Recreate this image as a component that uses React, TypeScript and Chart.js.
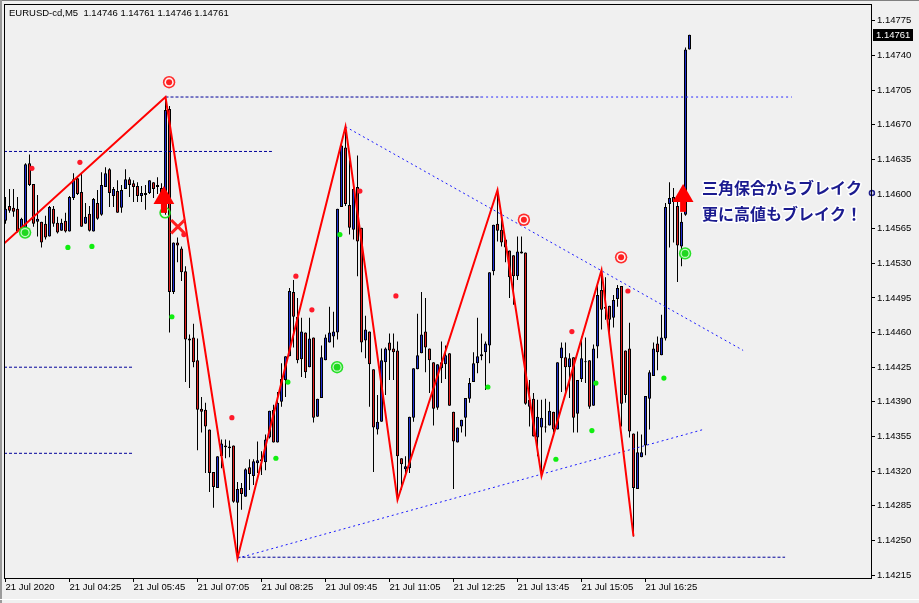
import React, { useEffect, useRef } from "react";
import { Chart, registerables } from "chart.js";

Chart.register(...registerables);

const chartTitle = "EURUSD-cd,M5  1.14746 1.14761 1.14746 1.14761";

const openP = [
  1.14573, 1.14588, 1.14586, 1.14585, 1.14565, 1.14566, 1.14631, 1.14610, 1.14572, 1.14572,
  1.14570, 1.14557, 1.14585, 1.14571, 1.14563, 1.14573, 1.14562, 1.14596, 1.14616, 1.14602,
  1.14570, 1.14580, 1.14562, 1.14591, 1.14579, 1.14607, 1.14625, 1.14598, 1.14603, 1.14586,
  1.14605, 1.14615, 1.14611, 1.14608, 1.14598, 1.14601, 1.14601, 1.14612, 1.14607, 1.14606,
  1.14581, 1.14686, 1.14501, 1.14551, 1.14545, 1.14522, 1.14452, 1.14455, 1.14432, 1.14383,
  1.14382, 1.14362, 1.14319, 1.14303, 1.14335, 1.14344, 1.14345, 1.14346, 1.14288, 1.14303,
  1.14294, 1.14324, 1.14315, 1.14328, 1.14332, 1.14329, 1.14354, 1.14382, 1.14349, 1.14390,
  1.14412, 1.14436, 1.14501, 1.14476, 1.14433, 1.14460, 1.14425, 1.14455, 1.14375, 1.14394,
  1.14432, 1.14450, 1.14456, 1.14460, 1.14587, 1.14647, 1.14589, 1.14564, 1.14607, 1.14566,
  1.14452, 1.14461, 1.14423, 1.14362, 1.14370, 1.14430, 1.14450, 1.14444, 1.14442, 1.14333,
  1.14322, 1.14323, 1.14374, 1.14423, 1.14439, 1.14461, 1.14444, 1.14430, 1.14384, 1.14424,
  1.14428, 1.14439, 1.14380, 1.14349, 1.14365, 1.14374, 1.14393, 1.14410, 1.14429, 1.14438,
  1.14440, 1.14447, 1.14522, 1.14570, 1.14564, 1.14554, 1.14543, 1.14538, 1.14517, 1.14540,
  1.14541, 1.14385, 1.14393, 1.14354, 1.14364, 1.14365, 1.14366, 1.14380, 1.14362, 1.14434,
  1.14435, 1.14425, 1.14435, 1.14378, 1.14413, 1.14431, 1.14432, 1.14386, 1.14446, 1.14503,
  1.14486, 1.14487, 1.14475, 1.14494, 1.14507, 1.14442, 1.14444, 1.14358, 1.14302, 1.14334,
  1.14346, 1.14393, 1.14416, 1.14449, 1.14437, 1.14454, 1.14590, 1.14597, 1.14588, 1.14547,
  1.14579, 1.14746,
];

const highP = [
  1.14597, 1.14605, 1.14605, 1.14597, 1.14576, 1.14631, 1.14640, 1.14610, 1.14599, 1.14572,
  1.14578, 1.14588, 1.14588, 1.14577, 1.14575, 1.14581, 1.14598, 1.14621, 1.14617, 1.14621,
  1.14591, 1.14588, 1.14596, 1.14604, 1.14622, 1.14627, 1.14626, 1.14607, 1.14614, 1.14609,
  1.14625, 1.14617, 1.14614, 1.14612, 1.14608, 1.14609, 1.14614, 1.14612, 1.14617, 1.14611,
  1.14698, 1.14689, 1.14551, 1.14556, 1.14547, 1.14527, 1.14458, 1.14469, 1.14454, 1.14395,
  1.14389, 1.14362, 1.14319, 1.14335, 1.14352, 1.14352, 1.14351, 1.14346, 1.14309, 1.14308,
  1.14323, 1.14332, 1.14332, 1.14350, 1.14340, 1.14357, 1.14381, 1.14387, 1.14400, 1.14429,
  1.14436, 1.14505, 1.14513, 1.14495, 1.14475, 1.14460, 1.14475, 1.14455, 1.14393, 1.14447,
  1.14458, 1.14486, 1.14481, 1.14585, 1.14650, 1.14668, 1.14634, 1.14611, 1.14639, 1.14566,
  1.14477, 1.14461, 1.14423, 1.14397, 1.14444, 1.14445, 1.14459, 1.14459, 1.14451, 1.14333,
  1.14335, 1.14375, 1.14424, 1.14479, 1.14501, 1.14495, 1.14444, 1.14430, 1.14428, 1.14451,
  1.14447, 1.14439, 1.14380, 1.14364, 1.14372, 1.14394, 1.14414, 1.14440, 1.14475, 1.14459,
  1.14451, 1.14521, 1.14569, 1.14604, 1.14580, 1.14554, 1.14543, 1.14538, 1.14557, 1.14557,
  1.14541, 1.14412, 1.14399, 1.14392, 1.14392, 1.14393, 1.14390, 1.14380, 1.14430, 1.14450,
  1.14450, 1.14439, 1.14435, 1.14412, 1.14456, 1.14455, 1.14432, 1.14448, 1.14510, 1.14523,
  1.14516, 1.14487, 1.14498, 1.14508, 1.14507, 1.14442, 1.14470, 1.14358, 1.14360, 1.14357,
  1.14396, 1.14422, 1.14450, 1.14456, 1.14478, 1.14591, 1.14612, 1.14606, 1.14592, 1.14581,
  1.14748, 1.14761,
];

const lowP = [
  1.14570, 1.14581, 1.14577, 1.14561, 1.14564, 1.14564, 1.14608, 1.14567, 1.14557, 1.14546,
  1.14554, 1.14557, 1.14567, 1.14560, 1.14563, 1.14561, 1.14562, 1.14594, 1.14599, 1.14567,
  1.14570, 1.14562, 1.14562, 1.14574, 1.14578, 1.14607, 1.14587, 1.14587, 1.14581, 1.14581,
  1.14605, 1.14597, 1.14592, 1.14592, 1.14592, 1.14584, 1.14600, 1.14596, 1.14600, 1.14591,
  1.14579, 1.14460, 1.14499, 1.14531, 1.14512, 1.14410, 1.14404, 1.14425, 1.14341, 1.14359,
  1.14318, 1.14299, 1.14283, 1.14303, 1.14323, 1.14333, 1.14334, 1.14288, 1.14232, 1.14281,
  1.14294, 1.14301, 1.14306, 1.14318, 1.14316, 1.14321, 1.14353, 1.14349, 1.14349, 1.14385,
  1.14395, 1.14436, 1.14445, 1.14429, 1.14415, 1.14414, 1.14425, 1.14369, 1.14375, 1.14394,
  1.14432, 1.14450, 1.14445, 1.14453, 1.14587, 1.14588, 1.14559, 1.14554, 1.14517, 1.14440,
  1.14434, 1.14385, 1.14319, 1.14357, 1.14370, 1.14397, 1.14412, 1.14412, 1.14291, 1.14301,
  1.14314, 1.14318, 1.14370, 1.14423, 1.14439, 1.14420, 1.14399, 1.14366, 1.14382, 1.14409,
  1.14413, 1.14386, 1.14302, 1.14349, 1.14359, 1.14355, 1.14389, 1.14410, 1.14419, 1.14432,
  1.14402, 1.14429, 1.14518, 1.14552, 1.14547, 1.14531, 1.14495, 1.14488, 1.14513, 1.14540,
  1.14387, 1.14365, 1.14355, 1.14335, 1.14315, 1.14359, 1.14366, 1.14359, 1.14362, 1.14400,
  1.14399, 1.14394, 1.14359, 1.14359, 1.14410, 1.14409, 1.14383, 1.14386, 1.14434, 1.14463,
  1.14473, 1.14456, 1.14465, 1.14486, 1.14365, 1.14389, 1.14354, 1.14254, 1.14302, 1.14334,
  1.14336, 1.14362, 1.14416, 1.14422, 1.14437, 1.14452, 1.14546, 1.14551, 1.14511, 1.14527,
  1.14578, 1.14746,
];

const closeP = [
  1.14585, 1.14583, 1.14582, 1.14562, 1.14575, 1.14630, 1.14609, 1.14570, 1.14575, 1.14551,
  1.14556, 1.14587, 1.14570, 1.14561, 1.14571, 1.14562, 1.14597, 1.14615, 1.14600, 1.14567,
  1.14577, 1.14563, 1.14595, 1.14575, 1.14609, 1.14621, 1.14601, 1.14605, 1.14581, 1.14604,
  1.14615, 1.14609, 1.14607, 1.14598, 1.14601, 1.14599, 1.14614, 1.14605, 1.14609, 1.14594,
  1.14685, 1.14501, 1.14551, 1.14548, 1.14521, 1.14453, 1.14454, 1.14430, 1.14382, 1.14380,
  1.14365, 1.14318, 1.14304, 1.14335, 1.14348, 1.14346, 1.14343, 1.14289, 1.14302, 1.14297,
  1.14322, 1.14317, 1.14330, 1.14331, 1.14330, 1.14352, 1.14381, 1.14349, 1.14389, 1.14413,
  1.14436, 1.14502, 1.14476, 1.14432, 1.14461, 1.14420, 1.14454, 1.14374, 1.14393, 1.14435,
  1.14455, 1.14460, 1.14461, 1.14585, 1.14649, 1.14590, 1.14566, 1.14605, 1.14552, 1.14450,
  1.14463, 1.14428, 1.14364, 1.14370, 1.14432, 1.14444, 1.14442, 1.14440, 1.14335, 1.14327,
  1.14325, 1.14375, 1.14424, 1.14437, 1.14458, 1.14445, 1.14432, 1.14383, 1.14428, 1.14430,
  1.14437, 1.14386, 1.14350, 1.14364, 1.14372, 1.14394, 1.14409, 1.14429, 1.14436, 1.14436,
  1.14449, 1.14521, 1.14569, 1.14563, 1.14551, 1.14546, 1.14516, 1.14517, 1.14542, 1.14542,
  1.14388, 1.14392, 1.14355, 1.14375, 1.14374, 1.14364, 1.14381, 1.14362, 1.14430, 1.14445,
  1.14425, 1.14434, 1.14374, 1.14412, 1.14434, 1.14430, 1.14385, 1.14444, 1.14498, 1.14483,
  1.14484, 1.14473, 1.14493, 1.14505, 1.14388, 1.14397, 1.14360, 1.14303, 1.14339, 1.14339,
  1.14396, 1.14420, 1.14444, 1.14440, 1.14455, 1.14587, 1.14596, 1.14592, 1.14548, 1.14572,
  1.14746, 1.14761,
];

const timeTickIdx = [0, 16, 32, 48, 64, 80, 96, 112, 128, 144, 160];
const timeTickLabels = [
  "21 Jul 2020", "21 Jul 04:25", "21 Jul 05:45", "21 Jul 07:05", "21 Jul 08:25", "21 Jul 09:45",
  "21 Jul 11:05", "21 Jul 12:25", "21 Jul 13:45", "21 Jul 15:05", "21 Jul 16:25",
];
const priceTicks = [
  1.14215, 1.1425, 1.14285, 1.1432, 1.14355, 1.1439, 1.14425, 1.1446, 1.14495,
  1.1453, 1.14565, 1.146, 1.14635, 1.1467, 1.14705, 1.1474, 1.14775,
];

// ZigZag
const zigzagIdx = [-0.375, 40, 58, 85, 98, 123, 134, 149, 157];
const zigzagPrice = [1.1455, 1.14698, 1.14232, 1.14668, 1.14291, 1.14604, 1.14315, 1.14523, 1.14254];

// horizontal levels
const levelPrice = [1.14698, 1.14698, 1.14643, 1.14425, 1.14338, 1.14233];
const levelFrom = [40, 118.9, -0.375, -0.375, -0.375, 58];
const levelTo = [118.9, 196.6, 66.6, 31.9, 31.9, 194.9];

// triangle trend lines
const trendFromIdx = [85, 58];
const trendFromPrice = [1.14668, 1.14232];
const trendToIdx = [184.4, 174.4];
const trendToPrice = [1.14442, 1.14362];

// fractals
const upFracIdx = [6.6, 18.6, 44.6, 56.6, 72.6, 76.6, 88.6, 97.6, 141.6, 155.6];
const upFracPrice = [1.14626, 1.14632, 1.14559, 1.14374, 1.14517, 1.14483, 1.14603, 1.14497, 1.14461, 1.14502];
const dnFracIdx = [15.6, 21.6, 41.6, 67.6, 70.6, 83.6, 120.6, 137.6, 146.6, 147.6, 164.6];
const dnFracPrice = [1.14546, 1.14547, 1.14476, 1.14333, 1.1441, 1.14559, 1.14405, 1.14332, 1.14361, 1.14409, 1.14414];

// signal markers
const sellSigIdx = [40.9, 129.6, 153.9];
const sellSigPrice = [1.14713, 1.14574, 1.14536];
const buySigIdx = [4.9, 82.9, 169.9];
const buySigPrice = [1.14561, 1.14425, 1.1454];
const ringIdx = [39.9];
const ringPrice = [1.14581];
const crossIdx = [43.1];
const crossPrice = [1.14567];
const arrowIdx = [39.6, 169.4];
const arrowHeadPrice = [1.14596, 1.14598];
const arrowTailPrice = [1.14586, 1.14587];
const anchorIdx = [216.6];
const anchorPrice = [1.14601];

// notes
const noteLines = ["三角保合からブレイク", "更に高値もブレイク！"];
const noteIdx = [174.1, 174.1];
const notePrice = [1.14606, 1.1458];

const BULL = "#1f2fd0";
const BEAR = "#e02020";
const AXIS_FONT = { family: "'Liberation Sans', Arial, sans-serif", size: 9.5 };

const pts = (xs: number[], ys: number[]) => xs.map((x, i) => ({ x, y: ys[i] }));

const zeroPad = (s: any) => {
  s.paddingLeft = 0;
  s.paddingRight = 0;
  s.paddingTop = 0;
  s.paddingBottom = 0;
};

const overlayPlugin = {
  id: "overlay",
  beforeDraw(chart: any) {
    const ctx = chart.ctx;
    ctx.save();
    ctx.fillStyle = "#F0F0F0";
    ctx.fillRect(0, 0, chart.width, chart.height);
    ctx.restore();
  },
  afterDraw(chart: any) {
    const ctx = chart.ctx;
    const xs = chart.scales.x;
    const ys = chart.scales.y;
    const a = chart.chartArea;
    ctx.save();
    // window frame
    ctx.fillStyle = "#808080";
    ctx.fillRect(0, 0, chart.width, 1);
    ctx.fillStyle = "#9a9a9a";
    ctx.fillRect(0, 0, 2, chart.height);
    ctx.fillStyle = "#ffffff";
    ctx.fillRect(0, chart.height - 4, chart.width, 1);
    // plot border
    ctx.strokeStyle = "#000";
    ctx.lineWidth = 1;
    ctx.strokeRect(a.left + 0.5, a.top + 0.5, a.right - a.left, a.bottom - a.top);
    // title
    ctx.fillStyle = "#000";
    ctx.font = "9.5px 'Liberation Sans', Arial, sans-serif";
    ctx.textBaseline = "middle";
    ctx.textAlign = "left";
    ctx.fillText(chartTitle, a.left + 5, a.top + 9);
    // last price box
    const last = closeP[closeP.length - 1];
    const py = Math.round(ys.getPixelForValue(last));
    ctx.fillStyle = "#000";
    ctx.fillRect(a.right + 2, py - 6, 40, 12);
    ctx.fillStyle = "#fff";
    ctx.fillText(last.toFixed(5), a.right + 5, py + 0.5);
    // notes
    ctx.font = "bold 16px 'Noto Sans CJK JP', sans-serif";
    ctx.lineJoin = "round";
    noteLines.forEach((t, k) => {
      const tx = xs.getPixelForValue(noteIdx[k]);
      const ty = ys.getPixelForValue(notePrice[k]);
      ctx.strokeStyle = "#ffffff";
      ctx.lineWidth = 3;
      ctx.strokeText(t, tx, ty);
      ctx.fillStyle = "#1b1b8f";
      ctx.fillText(t, tx, ty);
    });
    ctx.restore();
  },
};

export default function App() {
  const ref = useRef<HTMLCanvasElement | null>(null);

  useEffect(() => {
    if (!ref.current) return;
    const idx = openP.map((_, i) => i);
    const wickData = idx.map((i) => ({ x: i, y: [lowP[i], highP[i]] }));
    const bodyData = idx.map((i) => ({ x: i, y: [openP[i], closeP[i]] }));
    const bodyColors = idx.map((i) => (closeP[i] >= openP[i] ? BULL : BEAR));

    const levelSets = levelPrice.map((p, k) => ({
      type: "line",
      data: [
        { x: levelFrom[k], y: p },
        { x: levelTo[k], y: p },
      ],
      borderColor: k === 1 ? "#2a2aff" : "#00009a",
      borderWidth: 1,
      borderDash: k === 1 ? [2, 3] : [3, 2],
      pointRadius: 0,
      fill: false,
      order: 7,
    }));
    const trendSets = trendFromIdx.map((fx, k) => ({
      type: "line",
      data: [
        { x: fx, y: trendFromPrice[k] },
        { x: trendToIdx[k], y: trendToPrice[k] },
      ],
      borderColor: "#1a1aff",
      borderWidth: 1,
      borderDash: [2, 3],
      pointRadius: 0,
      fill: false,
      order: 7,
    }));

    const scatter = (data: any, extra: any, order: number) => ({
      type: "scatter",
      data,
      pointBorderWidth: 0,
      pointHoverRadius: extra.pointRadius,
      order,
      ...extra,
    });

    const chart = new Chart(ref.current, {
      type: "bar",
      data: {
        datasets: [
          scatter(pts(arrowIdx, arrowHeadPrice), {
            pointStyle: "triangle",
            pointRadius: 12,
            pointBackgroundColor: "#ff0000",
            pointBorderColor: "#ff0000",
          }, 1),
          scatter(pts(arrowIdx, arrowTailPrice), {
            pointStyle: "line",
            pointRotation: 90,
            pointRadius: 5,
            pointBorderWidth: 6,
            pointBorderColor: "#ff0000",
            pointBackgroundColor: "#ff0000",
          }, 1),
          scatter(pts(crossIdx, crossPrice), {
            pointStyle: "crossRot",
            pointRadius: 9.5,
            pointBorderWidth: 3,
            pointBorderColor: "#ff2020",
          }, 1),
          scatter(pts(sellSigIdx, sellSigPrice), { pointRadius: 3, pointBackgroundColor: "#ff2020" }, 2),
          scatter(pts(sellSigIdx, sellSigPrice), { pointRadius: 4.6, pointBackgroundColor: "#fff0f0" }, 3),
          scatter(pts(sellSigIdx, sellSigPrice), { pointRadius: 6.2, pointBackgroundColor: "#ff2a2a" }, 4),
          scatter(pts(buySigIdx, buySigPrice), { pointRadius: 3.4, pointBackgroundColor: "#20d820" }, 2),
          scatter(pts(buySigIdx, buySigPrice), { pointRadius: 4.6, pointBackgroundColor: "#c8f8c8" }, 3),
          scatter(pts(buySigIdx, buySigPrice), { pointRadius: 6.2, pointBackgroundColor: "#28e028" }, 4),
          scatter(pts(ringIdx, ringPrice), {
            pointRadius: 5,
            pointBorderWidth: 1.6,
            pointBorderColor: "#22dd22",
            pointBackgroundColor: "rgba(0,0,0,0)",
          }, 2),
          scatter(pts(anchorIdx, anchorPrice), {
            pointRadius: 2.5,
            pointBorderWidth: 1.5,
            pointBorderColor: "#20208c",
            pointBackgroundColor: "#d8d8f8",
            clip: false,
          }, 2),
          scatter(pts(upFracIdx, upFracPrice), { pointRadius: 2.6, pointBackgroundColor: "#ff1a2a" }, 4),
          scatter(pts(dnFracIdx, dnFracPrice), { pointRadius: 2.6, pointBackgroundColor: "#10ee10" }, 4),
          {
            type: "line",
            data: pts(zigzagIdx, zigzagPrice),
            borderColor: "#ff0000",
            borderWidth: 2,
            pointRadius: 0,
            fill: false,
            tension: 0,
            order: 5,
          },
          ...levelSets,
          ...trendSets,
          {
            type: "bar",
            data: bodyData,
            backgroundColor: bodyColors,
            borderColor: "#000000",
            borderWidth: 1,
            borderSkipped: false,
            grouped: false,
            categoryPercentage: 1,
            barPercentage: 0.75,
            inflateAmount: 0,
            order: 8,
          },
          {
            type: "bar",
            data: wickData,
            backgroundColor: "#000000",
            borderWidth: 0,
            grouped: false,
            categoryPercentage: 1,
            barPercentage: 0.25,
            inflateAmount: 0,
            order: 9,
          },
        ] as any,
      },
      options: {
        animation: false,
        responsive: false,
        devicePixelRatio: 1,
        events: [],
        layout: { autoPadding: false, padding: { left: 4, top: 4, right: 0, bottom: 0 } },
        plugins: { legend: { display: false }, tooltip: { enabled: false } },
        scales: {
          x: {
            type: "linear",
            min: -0.375,
            max: 216.375,
            offset: false,
            stacked: false,
            grid: { display: true, drawOnChartArea: false, drawTicks: true, tickLength: 4, color: "#000", offset: false },
            border: { display: false },
            afterBuildTicks: (s: any) => {
              s.ticks = timeTickIdx.map((v) => ({ value: v }));
            },
            afterFit: (s: any) => {
              s.height = 25;
              zeroPad(s);
            },
            ticks: {
              autoSkip: false,
              maxRotation: 0,
              minRotation: 0,
              align: "start",
              padding: 0,
              color: "#000",
              font: AXIS_FONT,
              callback: (_v: any, i: number) => timeTickLabels[i],
            },
          },
          y: {
            type: "linear",
            position: "right",
            min: 1.14212,
            max: 1.14792,
            stacked: false,
            grid: { display: true, drawOnChartArea: false, drawTicks: true, tickLength: 4, color: "#000" },
            border: { display: false },
            afterBuildTicks: (s: any) => {
              s.ticks = priceTicks.map((v) => ({ value: v }));
            },
            afterFit: (s: any) => {
              s.width = 48;
              zeroPad(s);
            },
            ticks: {
              padding: 2,
              color: "#000",
              font: AXIS_FONT,
              callback: (v: any) => Number(v).toFixed(5),
            },
          },
        },
      } as any,
      plugins: [overlayPlugin],
    });
    return () => chart.destroy();
  }, []);

  return (
    <div style={{ position: "fixed", left: 0, top: 0, width: 919, height: 603, background: "#F0F0F0" }}>
      <canvas ref={ref} width={919} height={603} style={{ display: "block", width: 919, height: 603 }} />
    </div>
  );
}
